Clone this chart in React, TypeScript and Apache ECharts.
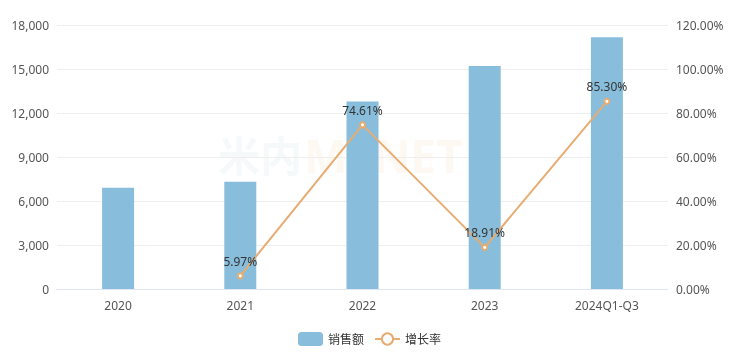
import React, { useEffect, useRef } from "react";
import * as echarts from "echarts";

const categories = ["2020", "2021", "2022", "2023", "2024Q1-Q3"];
const salesValues = [6910, 7320, 12780, 15200, 17160];
const growthValues: (number | null)[] = [null, 5.97, 74.61, 18.91, 85.3];
const leftTicks = { min: 0, max: 18000, interval: 3000 };
const rightTicks = { min: 0, max: 120, interval: 20 };

export default function App() {
  const ref = useRef<HTMLDivElement>(null);
  useEffect(() => {
    if (!ref.current) return;
    const chart = echarts.init(ref.current, undefined, { renderer: "svg" });
    const font = "'Noto Sans', 'Noto Sans CJK SC', sans-serif";
    chart.setOption({
      animation: false,
      textStyle: { fontFamily: font },
      grid: { left: 57, right: 71, top: 25, bottom: 74 },
      legend: {
        bottom: 12,
        left: "center",
        itemWidth: 25,
        itemHeight: 14,
        itemGap: 10,
        textStyle: { color: "#333", fontSize: 12, fontFamily: font },
        data: ["销售额", "增长率"],
      },
      graphic: [
        {
          type: "text",
          left: 218,
          top: 134,
          style: {
            text: "米内",
            fontSize: 42,
            fontWeight: "bold",
            fill: "rgba(120,170,190,0.07)",
            fontFamily: font,
          },
          z: 0,
        },
        {
          type: "text",
          left: 304,
          top: 132,
          style: {
            text: "MENET",
            fontSize: 46,
            fontWeight: "bold",
            fill: "rgba(240,160,90,0.07)",
            fontFamily: font,
          },
          z: 0,
        },
      ],
      xAxis: {
        type: "category",
        data: categories,
        axisTick: { show: false },
        axisLine: { lineStyle: { color: "#e0e6f1" } },
        axisLabel: { color: "#555", fontSize: 12, margin: 10 },
      },
      yAxis: [
        {
          type: "value",
          ...leftTicks,
          axisLabel: {
            color: "#555",
            fontSize: 12,
            formatter: (v: number) => v.toLocaleString("en-US"),
          },
          splitLine: { lineStyle: { color: "#eeeeee" } },
        },
        {
          type: "value",
          ...rightTicks,
          axisLabel: {
            color: "#555",
            fontSize: 12,
            formatter: (v: number) => v.toFixed(2) + "%",
          },
          splitLine: { show: false },
        },
      ],
      series: [
        {
          name: "销售额",
          type: "bar",
          data: salesValues,
          barWidth: 32,
          itemStyle: { color: "#88bedb" },
        },
        {
          name: "增长率",
          type: "line",
          yAxisIndex: 1,
          data: growthValues,
          symbol: "emptyCircle",
          symbolSize: 5,
          lineStyle: { color: "#e6ac72", width: 2 },
          itemStyle: { color: "#e6ac72", borderWidth: 2 },
          label: {
            show: true,
            position: "top",
            color: "#333",
            fontSize: 12,
            formatter: (p: any) => p.value.toFixed(2) + "%",
          },
        },
      ],
    });
    return () => chart.dispose();
  }, []);
  return (
    <div
      ref={ref}
      style={{ position: "fixed", left: 0, top: 0, width: 739, height: 363 }}
    />
  );
}
